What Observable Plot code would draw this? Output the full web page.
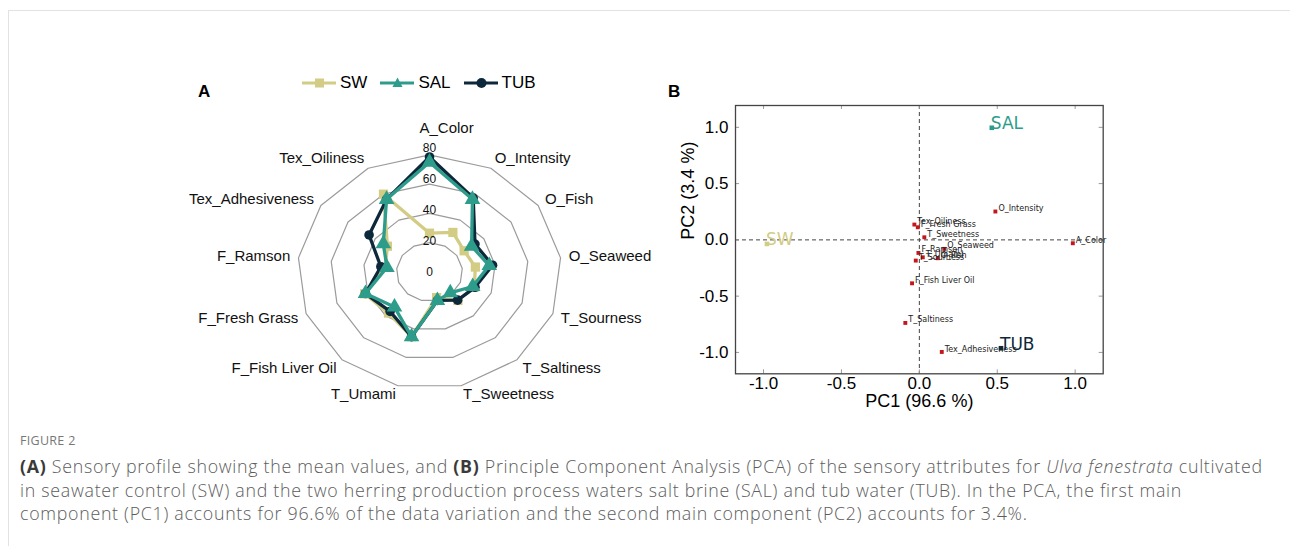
<!DOCTYPE html>
<html>
<head>
<meta charset="utf-8">
<script src="https://cdn.jsdelivr.net/npm/d3@7"></script>
<script src="https://cdn.jsdelivr.net/npm/@observablehq/plot@0.6"></script>
<style>
  html, body { margin: 0; padding: 0; background: #fff; }
  body { width: 1290px; height: 546px; overflow: hidden; position: relative; font-family: "Liberation Sans", Arial, sans-serif; }
  #borderTop { position: absolute; left: 8px; top: 10px; right: 0; border-top: 1px solid #e2e2e2; }
  #borderLeft { position: absolute; left: 8px; top: 10px; bottom: 0; border-left: 1px solid #e2e2e2; }
  #radar { position: absolute; left: 168.5px; top: 60px; }
  #pca { position: absolute; left: 660px; top: 95px; }
  .panel { position: absolute; font-weight: bold; font-size: 17px; color: #000; line-height: 1; }
  #legend { position: absolute; left: 302px; top: 73px; display: flex; align-items: center; font-size: 17px; color: #000; }
  #legend .item { display: flex; align-items: center; margin-right: 13px; }
  #legend .item span { margin-left: 4px; line-height: 20px; }
  #figlabel { position: absolute; left: 20px; top: 432px; font-family: "Open Sans", sans-serif; font-size: 12.5px; color: #777; letter-spacing: 0.3px; }
  #caption { position: absolute; left: 20px; top: 455px; font-family: "Open Sans", sans-serif; font-size: 17.8px; line-height: 23.5px; color: #5c5c5c; white-space: nowrap; letter-spacing: 0.72px; font-weight: 300; }
  #caption b { color: #3a3a3a; font-weight: 700; }
</style>
</head>
<body>
<div id="borderTop"></div>
<div id="borderLeft"></div>
<div class="panel" style="left:198px; top:83px;">A</div>
<div class="panel" style="left:668px; top:83px;">B</div>
<div id="legend"></div>
<div id="radar"></div>
<div id="pca"></div>
<div id="figlabel">FIGURE 2</div>
<div id="caption"><b>(A)</b> Sensory profile showing the mean values, and <b>(B)</b> Principle Component Analysis (PCA) of the sensory attributes for <i>Ulva fenestrata</i> cultivated<br>in seawater control (SW) and the two herring production process waters salt brine (SAL) and tub water (TUB). In the PCA, the first main<br>component (PC1) accounts for 96.6% of the data variation and the second main component (PC2) accounts for 3.4%.</div>

<script>
// ---------------- DATA ----------------
const attributes = ["A_Color", "O_Intensity", "O_Fish", "O_Seaweed", "T_Sourness", "T_Saltiness", "T_Sweetness", "T_Umami", "F_Fish Liver Oil", "F_Fresh Grass", "F_Ramson", "Tex_Adhesiveness", "Tex_Oiliness"];
const seriesNames = ["SW", "SAL", "TUB"];
const swValues  = [26.5, 30.5, 25.5, 28, 29, 26, 18, 45.5, 37.5, 42, 27, 31, 60];
const salValues = [75, 56, 31, 36.5, 28, 19, 20, 45.5, 32, 41.5, 26, 34, 56];
const tubValues = [78.5, 57, 33.5, 38.5, 29.5, 25.7, 20, 45.5, 36, 41.5, 29.7, 44.5, 56];
const seriesColors = ["#d3cc84", "#2e9c8b", "#0d283b"];
const seriesSymbols = ["square", "triangle", "circle"];
const ringValues = [20, 40, 60, 80];
const radialTickLabels = ["0", "20", "40", "60", "80"];

// PCA loadings (attributes) and scores (samples)
const pc1Loadings = [0.985, 0.488, 0.118, 0.16, -0.023, -0.09, 0.032, 0.022, -0.047, -0.01, -0.006, 0.144, -0.032];
const pc2Loadings = [-0.03, 0.252, -0.163, -0.08, -0.184, -0.738, 0.023, -0.155, -0.386, 0.112, -0.116, -0.996, 0.136];
const pc1Scores = [-0.978, 0.465, 0.524];
const pc2Scores = [-0.036, 0.996, -0.963];
const pcaTicks = [-1.0, -0.5, 0.0, 0.5, 1.0];
const pc1Title = "PC1 (96.6 %)";
const pc2Title = "PC2 (3.4 %)";

// ---------------- LEGEND ----------------
const legend = document.getElementById("legend");
seriesNames.forEach((name, i) => {
  const item = document.createElement("div");
  item.className = "item";
  const c = seriesColors[i];
  let marker = "";
  if (seriesSymbols[i] === "square") marker = `<rect x="13" y="5.5" width="9" height="9" fill="${c}"/>`;
  else if (seriesSymbols[i] === "triangle") marker = `<path d="M17.5,4.5 L22.5,14 L12.5,14 Z" fill="${c}"/>`;
  else marker = `<circle cx="17.5" cy="10" r="5" fill="${c}"/>`;
  item.innerHTML = `<svg width="34" height="20"><line x1="0" x2="34" y1="10" y2="10" stroke="${c}" stroke-width="3"/>${marker}</svg><span>${name}</span>`;
  legend.appendChild(item);
});

// ---------------- RADAR ----------------
const n = attributes.length;
const ang = i => 2 * Math.PI * i / n;
const polar = (values, name) => values.map((v, i) => ({series: name, attribute: attributes[i], x: v * Math.sin(ang(i)), y: v * Math.cos(ang(i))}));
const seriesValues = [swValues, salValues, tubValues];
const ringPts = ringValues.flatMap(r => attributes.map((a, i) => ({ring: r, x: r * Math.sin(ang(i)), y: r * Math.cos(ang(i))})));
const labelPts = attributes.map((a, i) => {
  const s = Math.sin(ang(i)), c = Math.cos(ang(i));
  return {name: a, i, s, x: 85 * s, y: (c < -0.9 ? 86 : 88) * c};
});

const drawOrder = [0, 2, 1]; // SW, TUB, SAL on top
const seriesMarks = drawOrder.flatMap(k => {
  const pts = polar(seriesValues[k], seriesNames[k]);
  const r = seriesSymbols[k] === "circle" ? 4.8 : seriesSymbols[k] === "square" ? 5.2 : 5.8;
  return [
    Plot.line(pts, {x: "x", y: "y", curve: "linear-closed", stroke: seriesColors[k], strokeWidth: 3.3, strokeLinejoin: "round"}),
    Plot.dot(pts, {x: "x", y: "y", symbol: seriesSymbols[k], r, fill: seriesColors[k], stroke: "none"})
  ];
});

const labelFont = {fontSize: 15, fill: "#111", fontFamily: "Liberation Sans, Arial, sans-serif", letterSpacing: -0.2};
const halfW = 260 / 1.65;
const radar = Plot.plot({
  width: 520, height: 360,
  marginTop: 0, marginRight: 0, marginBottom: 0, marginLeft: 0,
  x: {domain: [-halfW, halfW], axis: null},
  y: {domain: [-101.4, 144.4], axis: null},
  style: {fontFamily: "Liberation Sans, Arial, sans-serif", background: "transparent"},
  marks: [
    Plot.line(ringPts, {x: "x", y: "y", z: "ring", curve: "linear-closed", stroke: "#9b9b9b", strokeWidth: 1.2}),
    ...seriesMarks,
    Plot.text(radialTickLabels, {x: () => 0, y: d => +d * 1.06, text: d => d, fontSize: 12, fill: "#111"}),
    Plot.text(labelPts.filter(d => d.i > 0 && d.s > 0.05), {x: "x", y: "y", text: "name", textAnchor: "start", ...labelFont}),
    Plot.text(labelPts.filter(d => d.s < -0.05), {x: "x", y: "y", text: "name", textAnchor: "end", ...labelFont}),
    Plot.text(labelPts.filter(d => d.i === 0), {x: "x", y: "y", text: "name", textAnchor: "start", dx: -10, dy: -15, ...labelFont})
  ]
});
document.getElementById("radar").appendChild(radar);

// ---------------- PCA ----------------
const loadings = attributes.map((a, i) => ({name: a, x: pc1Loadings[i], y: pc2Loadings[i]}));
const xDom = [-1.18, 1.18], yDom = [-1.19, 1.194];
const sampleMarks = seriesNames.flatMap((name, i) => {
  const d = [{name, x: pc1Scores[i], y: pc2Scores[i]}];
  return [
    Plot.dot(d, {x: "x", y: "y", symbol: "square", r: 2.6, fill: seriesColors[i]}),
    Plot.text(d, {x: "x", y: "y", text: "name", textAnchor: "start", dx: -1, dy: -4, fontSize: 17, fill: seriesColors[i], fontFamily: "DejaVu Sans, sans-serif"})
  ];
});
const pca = Plot.plot({
  width: 460, height: 325,
  marginLeft: 75, marginRight: 17.3, marginTop: 10, marginBottom: 46.7,
  x: {domain: xDom},
  y: {domain: yDom},
  style: {fontFamily: "Liberation Sans, Arial, sans-serif", color: "#000", background: "transparent"},
  marks: [
    Plot.ruleX([0], {stroke: "#444", strokeDasharray: "4,3", strokeWidth: 1}),
    Plot.ruleY([0], {stroke: "#444", strokeDasharray: "4,3", strokeWidth: 1}),
    Plot.ruleX(pcaTicks, {x: d => d, y1: yDom[0], y2: yDom[0] + 0.035, stroke: "#999"}),
    Plot.ruleX(pcaTicks, {x: d => d, y1: yDom[1], y2: yDom[1] - 0.035, stroke: "#999"}),
    Plot.ruleY(pcaTicks, {y: d => d, x1: xDom[0], x2: xDom[0] + 0.026, stroke: "#999"}),
    Plot.ruleY(pcaTicks, {y: d => d, x1: xDom[1], x2: xDom[1] - 0.026, stroke: "#999"}),
    Plot.frame({stroke: "#444", strokeWidth: 1.3}),
    Plot.axisX({ticks: pcaTicks, tickSize: 0, tickPadding: 3, tickFormat: d => d.toFixed(1), fontSize: 17, label: null}),
    Plot.axisY({ticks: pcaTicks, tickSize: 0, tickPadding: 7, tickFormat: d => d.toFixed(1), fontSize: 17, label: null}),
    Plot.text([pc1Title], {frameAnchor: "bottom", dy: 33, text: d => d, fontSize: 18, fill: "#000"}),
    Plot.text([pc2Title], {frameAnchor: "left", dx: -47, rotate: -90, text: d => d, fontSize: 18, fill: "#000"}),
    Plot.dot(loadings, {x: "x", y: "y", symbol: "square", r: 2.2, fill: "#c5161c"}),
    Plot.text(loadings, {x: "x", y: "y", text: "name", textAnchor: "start", dx: 3, dy: -3, fontSize: 8, fill: "#222", fontFamily: "DejaVu Sans, sans-serif"}),
    ...sampleMarks
  ]
});
document.getElementById("pca").appendChild(pca);
</script>
</body>
</html>
